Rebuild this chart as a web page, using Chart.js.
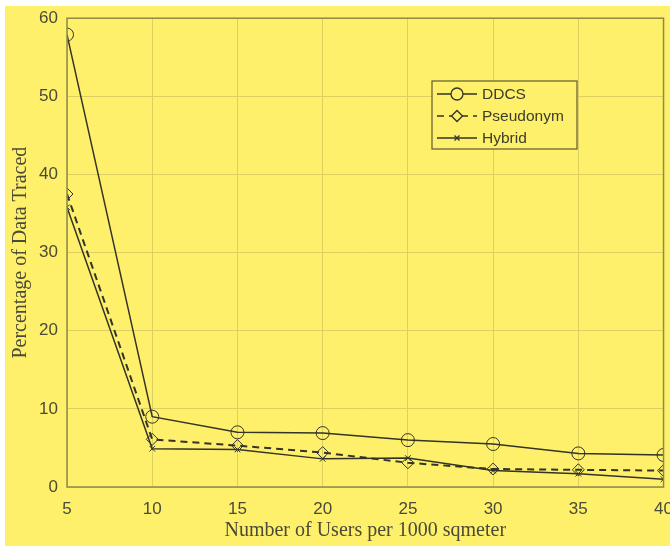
<!DOCTYPE html>
<html>
<head>
<meta charset="utf-8">
<script src="https://cdn.jsdelivr.net/npm/chart.js@4/dist/chart.umd.min.js"></script>
<style>
	html, body { margin: 0; padding: 0; background: #ffffff; overflow: hidden; width: 670px; height: 546px; }
	#wrap { position: absolute; left: 5px; top: -1px; width: 680px; height: 547px; background: #fef06a; }
	#edgeTop { position: absolute; left: 0; top: 0; width: 670px; height: 6px; background: #ffffff; }
</style>
</head>
<body>
<div id="wrap"><canvas id="myChart" width="680" height="547"></canvas></div>
<div id="edgeTop"></div>
<script>
const users = [5, 10, 15, 20, 25, 30, 35, 40];
const ddcs = [57.9, 9.0, 7.0, 6.9, 6.0, 5.5, 4.3, 4.1];
const pseudonym = [37.5, 6.1, 5.3, 4.4, 3.1, 2.3, 2.2, 2.1];
const hybrid = [35.8, 4.9, 4.8, 3.6, 3.7, 2.1, 1.7, 1.0];
const seriesNames = ['DDCS', 'Pseudonym', 'Hybrid'];

const ink = '#333328';
const textCol = '#4a4a38';

function toPoints(vals) {
	return users.map((u, i) => ({ x: u, y: vals[i] }));
}

// box round the plot area + legend box inside
const framePlugin = {
	id: 'frame',
	afterDraw(chart) {
		const c = chart.ctx, a = chart.chartArea;
		c.save();
		c.strokeStyle = '#8f8a48';
		c.lineWidth = 1.5;
		c.strokeRect(a.left, a.top, a.right - a.left, a.bottom - a.top);

		// legend (canvas coords, canvas sits at 5,-1)
		const lx = 427, ly = 82, lw = 145, lh = 68;
		c.fillStyle = '#fef06a';
		c.fillRect(lx, ly, lw, lh);
		c.strokeStyle = '#5e5a30';
		c.lineWidth = 1.2;
		c.strokeRect(lx, ly, lw, lh);
		c.font = '15.5px "Liberation Sans", Arial, sans-serif';
		c.textBaseline = 'middle';
		chart.data.datasets.forEach((ds, i) => {
			const y = ly + 13 + i * 22;
			c.strokeStyle = ink;
			c.lineWidth = 1.3;
			c.setLineDash(ds.borderDash || []);
			c.beginPath();
			c.moveTo(lx + 5, y);
			c.lineTo(lx + 45, y);
			c.stroke();
			c.setLineDash([]);
			c.fillStyle = '#fef06a';
			Chart.helpers.drawPoint(c, {
				pointStyle: ds.pointStyle, radius: ds.pointRadius - 0.5, borderWidth: 1
			}, lx + 25, y);
			c.fillStyle = '#3c3c2c';
			c.fillText(ds.label, lx + 50, y + 1);
		});
		c.restore();
	}
};

window.onload = () => {
	const ctx = document.getElementById('myChart').getContext('2d');
	const myChart = new Chart(ctx, {
		type: 'line',
		data: {
			datasets: [
				{
					label: seriesNames[0],
					data: toPoints(ddcs),
					borderColor: ink,
					backgroundColor: 'rgba(0,0,0,0)',
					borderWidth: 1.5,
					pointStyle: 'circle',
					pointRadius: 6.5,
					pointBorderColor: ink,
					pointBorderWidth: 1
				},
				{
					label: seriesNames[1],
					data: toPoints(pseudonym),
					borderColor: ink,
					backgroundColor: 'rgba(0,0,0,0)',
					borderWidth: 2,
					borderDash: [7, 5],
					pointStyle: 'rectRot',
					pointRadius: 6,
					pointBorderColor: ink,
					pointBorderWidth: 1
				},
				{
					label: seriesNames[2],
					data: toPoints(hybrid),
					borderColor: ink,
					backgroundColor: 'rgba(0,0,0,0)',
					borderWidth: 1.5,
					pointStyle: 'crossRot',
					pointRadius: 4,
					pointBorderColor: ink,
					pointBorderWidth: 1
				}
			]
		},
		options: {
			responsive: false,
			animation: false,
			layout: { autoPadding: false, padding: { top: 5, right: 0, left: 2, bottom: 0 } },
			plugins: {
				legend: { display: false },
				tooltip: { enabled: false }
			},
			scales: {
				x: {
					type: 'linear',
					min: 5,
					max: 40,
					afterFit(scale) { scale.height = 59; },
					ticks: {
						stepSize: 5,
						color: textCol,
						font: { family: '"Liberation Sans", Arial, sans-serif', size: 17 },
						padding: 12
					},
					grid: { color: '#ddd060', lineWidth: 1, tickLength: 0 },
					border: { display: false },
					title: {
						display: true,
						text: 'Number of Users per 1000 sqmeter',
						color: textCol,
						font: { family: '"Liberation Serif", "Times New Roman", serif', size: 20 },
						padding: { top: 0, bottom: 3 }
					}
				},
				y: {
					min: 0,
					max: 60,
					afterFit(scale) { scale.width = 60; },
					ticks: {
						stepSize: 10,
						color: textCol,
						font: { family: '"Liberation Sans", Arial, sans-serif', size: 17 },
						padding: 9
					},
					grid: { color: '#ddd060', lineWidth: 1, tickLength: 0 },
					border: { display: false },
					title: {
						display: true,
						text: 'Percentage of Data Traced',
						color: textCol,
						font: { family: '"Liberation Serif", "Times New Roman", serif', size: 20 },
						padding: { top: 2, bottom: 0 }
					}
				}
			}
		},
		plugins: [framePlugin]
	});
};
</script>
</body>
</html>
